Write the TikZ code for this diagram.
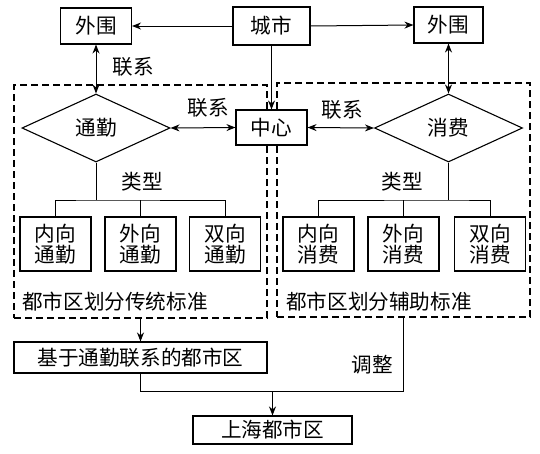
\documentclass[tikz,border=0pt]{standalone}
\usepackage{fontspec}
\newfontfamily\cjk{Noto Sans CJK SC}
\usetikzlibrary{shapes.geometric,arrows.meta}
\begin{document}
\begin{tikzpicture}[x=1pt,y=-1pt,
  every node/.style={font=\cjk\fontsize{20.6}{21}\selectfont, inner sep=0pt},
  box/.style={draw, line width=1.1pt, fill=white, minimum width=71pt, minimum height=36pt},
  smallbox/.style={draw, line width=1.1pt, fill=white, minimum width=71pt, minimum height=54pt, align=center},
  dia/.style={draw, line width=1.1pt, fill=white, diamond, minimum width=148pt, minimum height=68pt},
  dashbox/.style={draw, line width=1.1pt, dash pattern=on 7pt off 4pt},
  conn/.style={line width=1pt},
  arr/.style={line width=1pt, -{Stealth[length=9pt,width=7pt]}},
  barr/.style={line width=1pt, {Stealth[length=9pt,width=7pt]}-{Stealth[length=9pt,width=7pt]}},
  lbl/.style={}
]
\useasboundingbox (0,0) rectangle (540,453);
% dashed containers
\node[dashbox, minimum width=253pt, minimum height=233pt] (dashL) at (140.5,201.5) {};
\node[dashbox, minimum width=253pt, minimum height=234pt] (dashR) at (403.5,200) {};
% top
\node[box, minimum width=71pt] (wwL) at (96,26) {外围};
\node[box, minimum width=77pt, minimum height=38pt] (city) at (271.5,26) {城市};
\node[box, minimum width=69pt] (wwR) at (448.5,25) {外围};
\node[box, minimum height=35pt] (center) at (271.5,127.5) {中心};
\node[dia] (diaL) at (96,128) {通勤};
\node[dia] (diaR) at (448.5,128) {消费};
% labels
\node[lbl] (l1) at (133,67) {联系};
\node[lbl] (l2) at (208,108) {联系};
\node[lbl] (l3) at (342,110) {联系};
\node[lbl] (t1) at (142,182) {类型};
\node[lbl] (t2) at (402,182) {类型};
% small boxes
\node[smallbox] (bL1) at (55.5,244) {内向\\通勤};
\node[smallbox] (bL2) at (140.5,244) {外向\\通勤};
\node[smallbox] (bL3) at (225,244) {双向\\通勤};
\node[smallbox] (bR1) at (318.5,244) {内向\\消费};
\node[smallbox] (bR2) at (403.5,244) {外向\\消费};
\node[smallbox] (bR3) at (490,244) {双向\\消费};
\node[anchor=west] (sL) at (22,302) {都市区划分传统标准};
\node[anchor=west] (sR) at (286,302) {都市区划分辅助标准};
% bottom
\node[box, minimum width=253pt, minimum height=31pt] (jiyu) at (140.5,357.5) {基于通勤联系的都市区};
\node[box, minimum width=159pt, minimum height=28pt] (sh) at (272.5,430) {上海都市区};
\node[lbl] (adj) at (372,365) {调整};
% connectors
\draw[arr] (city.west) -- (wwL.east);
\draw[arr] (city.east) -- (wwR.west);
\draw[arr] (city.south) -- (center.north);
\draw[barr] (wwL.south) -- (diaL.north);
\draw[barr] (wwR.south) -- (diaR.north);
\draw[barr] (diaL.east) -- (center.west);
\draw[barr] (diaR.west) -- (center.east);
\coordinate (jL) at (96,200);
\coordinate (jR) at (448.5,200);
\draw[conn] (diaL.south) -- (jL);
\draw[conn] (bL1.north) |- (jL) -| (bL3.north);
\draw[conn] (bL2.north) -- (bL2.north |- jL);
\draw[conn] (diaR.south) -- (jR);
\draw[conn] (bR1.north) |- (jR) -| (bR3.north);
\draw[conn] (bR2.north) -- (bR2.north |- jR);
\draw[arr] (dashL.south) -- (jiyu.north);
\coordinate (jB) at (272.5,391);
\draw[conn] (dashR.south) |- (jB);
\draw[conn] (jiyu.south) |- (jB);
\draw[arr] (jB) -- (sh.north);
\end{tikzpicture}
\end{document}
